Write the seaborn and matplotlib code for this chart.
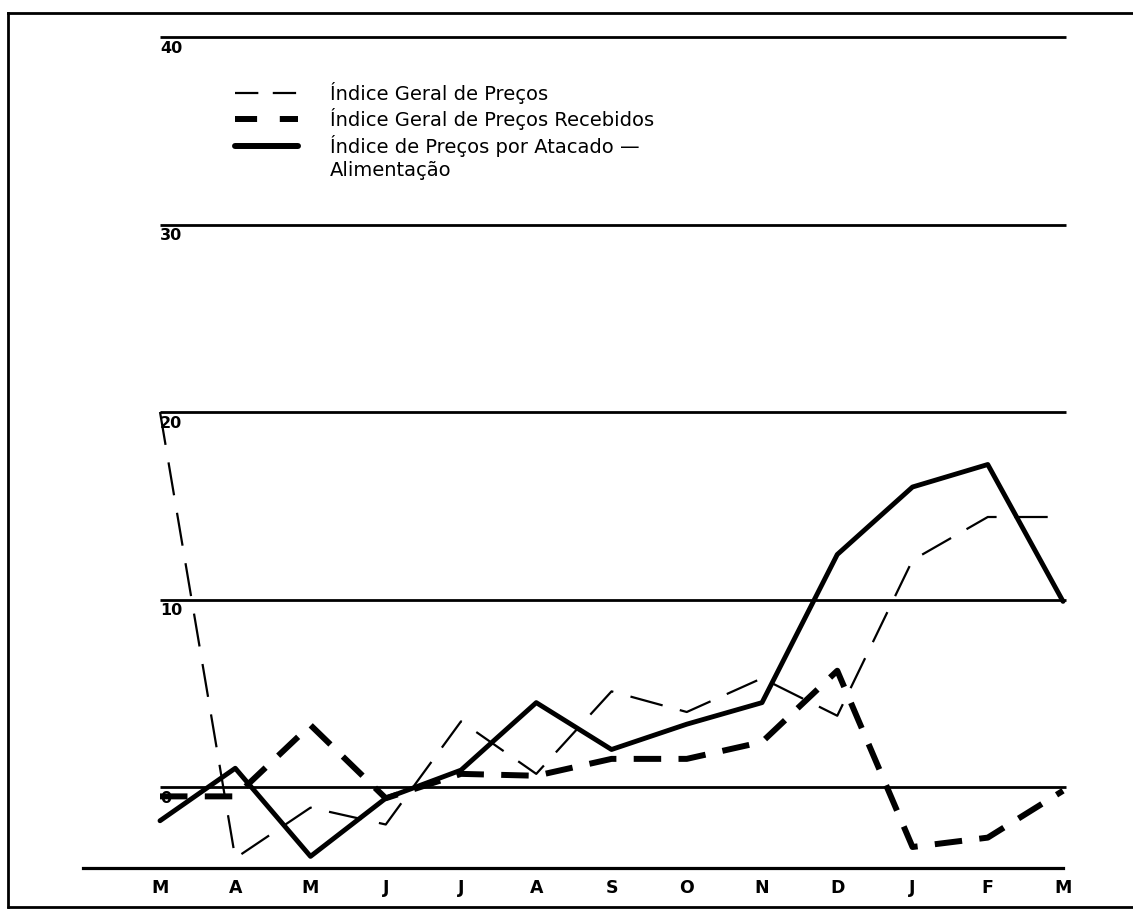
"""Índices de preços: variação mensal (reprodução de gráfico digitalizado)."""
import matplotlib
matplotlib.use("Agg")
import matplotlib.pyplot as plt
import pandas as pd
import seaborn as sns
from matplotlib.lines import Line2D

MONTHS = ["M", "A", "M", "J", "J", "A", "S", "O", "N", "D", "J", "F", "M"]
GERAL = [20.0, -3.8, -1.1, -2.0, 3.5, 0.7, 5.1, 4.0, 5.8, 3.8, 12.1, 14.4, 14.4]
RECEBIDOS = [-0.5, -0.5, 3.3, -0.6, 0.7, 0.6, 1.5, 1.5, 2.4, 6.2, -3.2, -2.7, -0.2]
ATACADO = [-1.8, 1.0, -3.7, -0.6, 0.9, 4.5, 2.0, 3.35, 4.5, 12.4, 16.0, 17.2, 9.9]
GRID_LEVELS = [0, 10, 20, 30, 40]
NAMES = ["Índice Geral de Preços", "Índice Geral de Preços Recebidos",
         "Índice de Preços por Atacado —"]
NAME_LINE2 = "Alimentação"

XMIN, XMAX = -2.02, 12.93
YMIN, YMAX = -6.4, 41.28
AXIS_Y = -4.3


def main():
    sns.set_style("white")
    plt.rcParams["font.family"] = ["DejaVu Sans"]
    plt.rcParams["text.color"] = "black"

    df = pd.concat([
        pd.DataFrame({"pos": range(len(MONTHS)), "value": values, "serie": name})
        for name, values in zip(NAMES, [GERAL, RECEBIDOS, ATACADO])
    ])

    fig = plt.figure(figsize=(11.33, 9.11), dpi=100)
    ax = fig.add_axes([8 / 1133, 4 / 911, 1125 / 1133, 894 / 911])

    ax.hlines(GRID_LEVELS, 0, 12.04, color="black", linewidth=2.0, zorder=1)

    sns.lineplot(
        data=df, x="pos", y="value",
        hue="serie", style="serie", size="serie",
        palette={n: "black" for n in NAMES},
        dashes={NAMES[0]: (15, 8), NAMES[1]: (4.6, 2.9), NAMES[2]: ""},
        sizes={NAMES[0]: 1.6, NAMES[1]: 4.3, NAMES[2]: 3.5},
        errorbar=None, legend=False, ax=ax, zorder=3,
    )

    for level in GRID_LEVELS:
        ax.text(0.0, level - 0.2, str(level), ha="left", va="top",
                fontsize=11.5, fontweight="bold", color="black")

    # spine position first: moving it resets the ticks
    ax.spines["bottom"].set_position(("data", AXIS_Y))
    ax.spines["bottom"].set_bounds(-1.02, 12.0)
    ax.spines["bottom"].set_linewidth(2.3)
    ax.spines["right"].set_visible(False)
    for side in ["left", "top", "bottom"]:
        ax.spines[side].set_color("black")
    for side in ["left", "top"]:
        ax.spines[side].set_linewidth(2.0)

    ax.set_xlim(XMIN, XMAX)
    ax.set_ylim(YMIN, YMAX)
    ax.set_xlabel("")
    ax.set_ylabel("")
    ax.set_yticks([])
    ax.tick_params(axis="x", direction="out", length=3, width=1.5, pad=5,
                   color="black", labelcolor="black")
    ax.set_xticks(range(len(MONTHS)), labels=MONTHS, fontsize=12.5, fontweight="bold")

    # frame line along the bottom edge of the page
    ax.axhline(YMIN, color="black", linewidth=2.0, clip_on=False)

    handles = [
        Line2D([], [], color="black", linewidth=1.6, dashes=(10.5, 6.5)),
        Line2D([], [], color="black", linewidth=4.3, dashes=(3.7, 3.8)),
        Line2D([], [], color="black", linewidth=4.3),
        Line2D([], [], color="none"),
    ]
    leg = ax.legend(handles, NAMES + [NAME_LINE2], loc="upper left",
                    bbox_to_anchor=(0.2018, 0.9228), frameon=False,
                    fontsize=14, handlelength=3.24, handletextpad=1.65,
                    labelspacing=0.22, borderpad=0, borderaxespad=0)
    for txt in leg.get_texts():
        txt.set_color("black")

    fig.savefig("out.png", dpi=100)


if __name__ == "__main__":
    main()
